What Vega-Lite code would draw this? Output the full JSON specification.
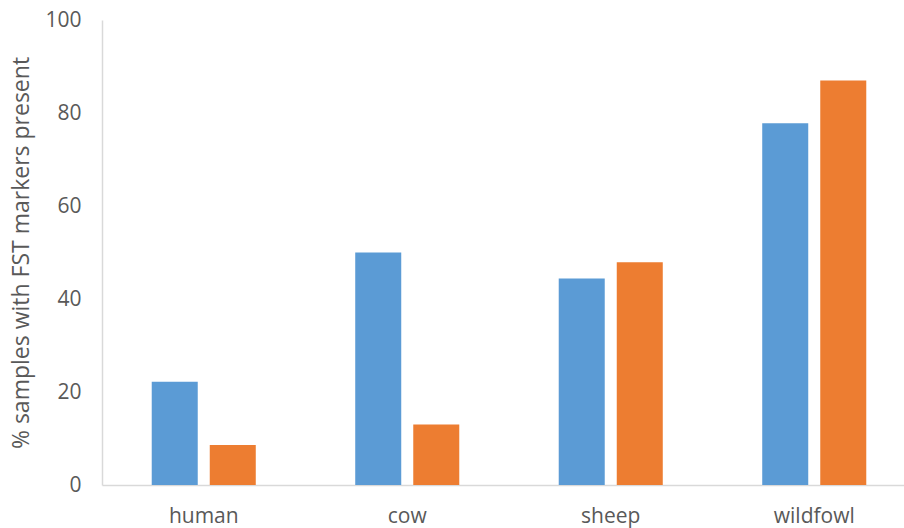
{
  "$schema": "https://vega.github.io/schema/vega-lite/v6.json",
  "autosize": {"type": "none"},
  "padding": {"left": 102, "top": 20, "right": 0, "bottom": 43},
  "width": 814,
  "height": 465,
  "background": "white",
  "config": {
    "view": {"stroke": null},
    "font": "Open Sans",
    "axis": {
      "labelFont": "Open Sans",
      "titleFont": "Open Sans",
      "labelColor": "#595959",
      "titleColor": "#595959",
      "domainColor": "#D9D9D9",
      "domainWidth": 1.5,
      "ticks": false,
      "grid": false
    }
  },
  "data": {
    "values": [
      {"host": "human", "series": "A", "pct": 22.2},
      {"host": "human", "series": "B", "pct": 8.6},
      {"host": "cow", "series": "A", "pct": 50.0},
      {"host": "cow", "series": "B", "pct": 13.0},
      {"host": "sheep", "series": "A", "pct": 44.4},
      {"host": "sheep", "series": "B", "pct": 47.9},
      {"host": "wildfowl", "series": "A", "pct": 77.8},
      {"host": "wildfowl", "series": "B", "pct": 87.0}
    ]
  },
  "mark": {"type": "bar"},
  "encoding": {
    "x": {
      "field": "host",
      "type": "nominal",
      "sort": ["human", "cow", "sheep", "wildfowl"],
      "scale": {"paddingInner": 0, "paddingOuter": 0},
      "axis": {
        "title": null,
        "labelAngle": 0,
        "labelFontSize": 21,
        "labelPadding": 20
      }
    },
    "xOffset": {
      "field": "series",
      "type": "nominal",
      "scale": {"paddingInner": 0.207, "paddingOuter": 0.857}
    },
    "y": {
      "field": "pct",
      "type": "quantitative",
      "scale": {"domain": [0, 100], "nice": false},
      "axis": {
        "title": "% samples with FST markers present",
        "titleFontSize": 23,
        "titleFontWeight": "normal",
        "titlePadding": 11,
        "labelFontSize": 21,
        "labelPadding": 21,
        "values": [0, 20, 40, 60, 80, 100]
      }
    },
    "color": {
      "field": "series",
      "type": "nominal",
      "scale": {"domain": ["A", "B"], "range": ["#5B9BD5", "#ED7D31"]},
      "legend": null
    }
  }
}
